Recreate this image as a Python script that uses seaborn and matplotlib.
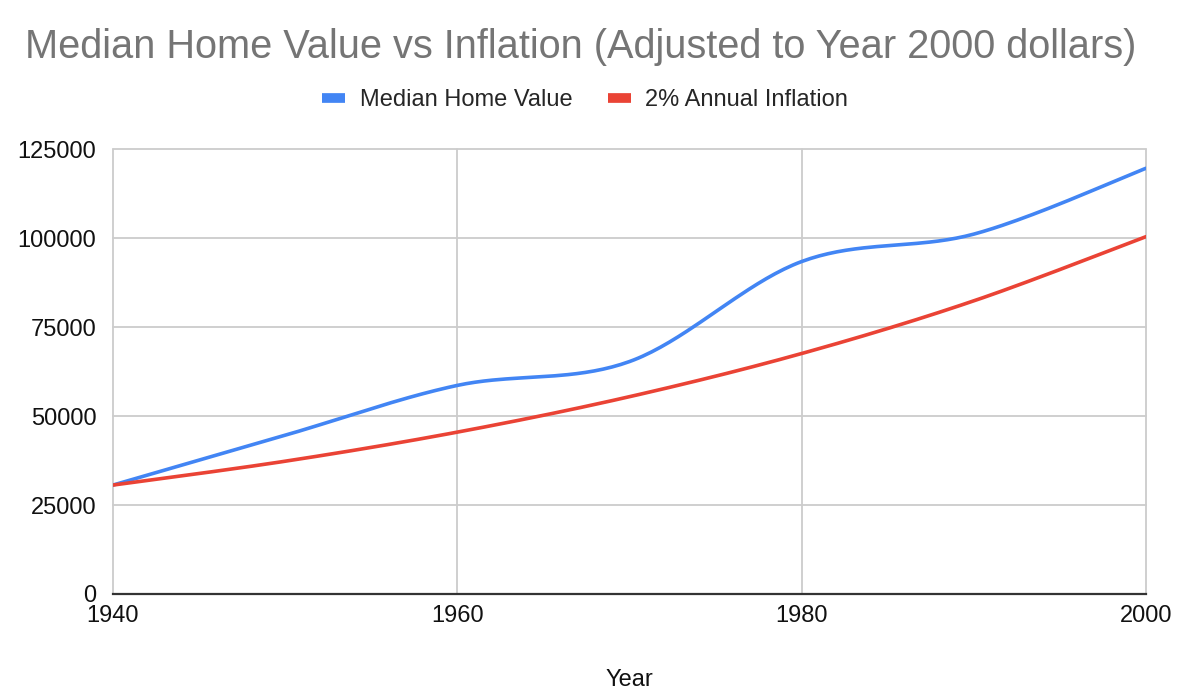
import numpy as np
import pandas as pd
import seaborn as sns
import matplotlib.pyplot as plt
from matplotlib.lines import Line2D

# data (decade points, year 2000 dollars)
years = [1940, 1950, 1960, 1970, 1980, 1990, 2000]
home_value = [30600, 44600, 58600, 65300, 93400, 101100, 119600]
inflation = [30600, 37300, 45470, 55430, 67560, 82360, 100390]

series_names = ['Median Home Value', '2% Annual Inflation']
colors = ['#4285F4', '#EA4335']
y_ticks = [0, 25000, 50000, 75000, 100000, 125000]
x_ticks = [1940, 1960, 1980, 2000]


# smooth the line between data points (catmull-rom style bezier, like the sheets chart)
def smooth(xs, ys, n=40):
    xs = np.asarray(xs, float)
    ys = np.asarray(ys, float)
    px = np.concatenate([[xs[0]], xs, [xs[-1]]])
    py = np.concatenate([[ys[0]], ys, [ys[-1]]])
    outx, outy = [], []
    for i in range(1, len(px) - 2):
        p0 = np.array([px[i - 1], py[i - 1]])
        p1 = np.array([px[i], py[i]])
        p2 = np.array([px[i + 1], py[i + 1]])
        p3 = np.array([px[i + 2], py[i + 2]])
        c1 = p1 + (p2 - p0) / 6
        c2 = p2 - (p3 - p1) / 6
        t = np.linspace(0, 1, n)[:, None]
        pts = ((1 - t) ** 3) * p1 + 3 * ((1 - t) ** 2) * t * c1 + 3 * (1 - t) * t ** 2 * c2 + t ** 3 * p2
        outx.extend(pts[:, 0])
        outy.extend(pts[:, 1])
    return outx, outy


frames = []
for name, vals in zip(series_names, [home_value, inflation]):
    sx, sy = smooth(years, vals)
    frames.append(pd.DataFrame({'Year': sx, 'Value': sy, 'Series': name}))
df = pd.concat(frames, ignore_index=True)

sns.set_style('white')
plt.rcParams['font.family'] = ['Liberation Sans', 'DejaVu Sans']

fig = plt.figure(figsize=(11.82, 6.98), dpi=100)
ax = fig.add_axes([0.0956, 0.149, 0.874, 0.6375])

sns.lineplot(data=df, x='Year', y='Value', hue='Series', palette=colors,
             sort=False, linewidth=2.6, ax=ax, legend=False)

ax.set_xlim(1940, 2000)
ax.set_ylim(0, 125000)
ax.set_xticks(x_ticks)
ax.set_yticks(y_ticks)
ax.set_xticklabels([str(x) for x in x_ticks])
ax.set_yticklabels([str(y) for y in y_ticks])
ax.grid(True, color='#cccccc', linewidth=1.3)
for gl in ax.get_xgridlines() + ax.get_ygridlines():
    gl.set_clip_on(False)
ax.set_axisbelow(True)
for side in ['top', 'right', 'left']:
    ax.spines[side].set_visible(False)
ax.spines['bottom'].set_color('#333333')
ax.spines['bottom'].set_linewidth(1.6)
ax.spines['bottom'].set_zorder(5)
ax.tick_params(axis='both', length=0, labelsize=17, colors='#111111')
ax.tick_params(axis='y', pad=12)
ax.tick_params(axis='x', pad=8)
ax.set_xlabel('Year', fontsize=17, color='#111111', labelpad=30)
ax.set_ylabel('')

fig.text(0.4915, 0.933, 'Median Home Value vs Inflation (Adjusted to Year 2000 dollars)',
         ha='center', va='center', fontsize=28.6, color='#757575')

handles = [Line2D([0], [0], color=c, linewidth=7, solid_capstyle='butt') for c in colors]
fig.legend(handles, series_names, loc='center', bbox_to_anchor=(0.495, 0.857), ncol=2,
           frameon=False, fontsize=17, handlelength=1.0, handletextpad=0.6, columnspacing=1.5)

fig.savefig('out.png', dpi=100)
